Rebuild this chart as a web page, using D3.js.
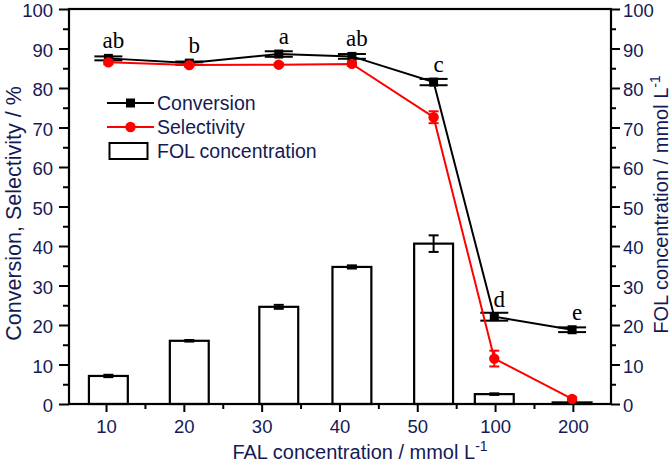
<!DOCTYPE html>
<html><head><meta charset="utf-8">
<script src="https://cdn.jsdelivr.net/npm/d3@7"></script>
<style>body{margin:0;background:#fff}svg{display:block}</style>
</head><body><svg id="c" width="672" height="464"></svg>
<script>
const categories = ["10","20","30","40","50","100","200"];
const xPositions = [0.03,1.07,2.22,3.16,4.21,4.99,5.99];
const conversion = [87.5,86.3,88.6,88.0,81.5,22.1,18.8];
const conversionErr = [0.5,0.4,0.7,0.6,0.8,1.0,0.6];
const selectivity = [86.5,85.8,85.9,86.1,72.6,11.5,1.3];
const selectivityErr = [0.5,0.4,0.4,0.5,1.5,2.0,0.4];
const folConc = [7.1,16.0,24.6,34.7,40.6,2.5,0.4];
const folErr = [0.3,0.2,0.5,0.4,2.1,0.2,0.1];
const letters = ["ab","b","a","ab","c","d","e"];
const yTicks = [0,10,20,30,40,50,60,70,80,90,100];
const yMinorTicks = [5,15,25,35,45,55,65,75,85,95];
const legendItems = ["Conversion","Selectivity","FOL concentration"];

const W=672,H=464, L=69, R=611, T=9, B=404;
const svg=d3.select("#c");
const x=d3.scaleLinear().domain([-0.476,6.49]).range([L,R]);
const y=d3.scaleLinear().domain([0,100]).range([B,T]);
const yR=d3.scaleLinear().domain([0,100]).range([B,T]);
const txtCol="#141a55";
const font="'Liberation Sans', Arial, sans-serif";

// bars
const bw = x(0.5)-x(0);
const barG=svg.append("g");
barG.selectAll("rect").data(folConc).join("rect")
  .attr("x",(d,i)=>x(xPositions[i])-bw/2).attr("width",bw)
  .attr("y",d=>yR(d)).attr("height",d=>B-yR(d))
  .attr("fill","#fff").attr("stroke","#000").attr("stroke-width",2.2);

function errBars(vals, errs, scale, capW, color, sw){
  const g=svg.append("g").attr("stroke",color).attr("stroke-width",sw).attr("fill","none");
  vals.forEach((v,i)=>{
    const cx=x(xPositions[i]), y1=scale(v+errs[i]), y2=scale(v-errs[i]);
    g.append("line").attr("x1",cx).attr("x2",cx).attr("y1",y1).attr("y2",y2);
    g.append("line").attr("x1",cx-capW/2).attr("x2",cx+capW/2).attr("y1",y1).attr("y2",y1);
    g.append("line").attr("x1",cx-capW/2).attr("x2",cx+capW/2).attr("y1",y2).attr("y2",y2);
  });
}
errBars(folConc, folErr, yR, 10, "#000", 2);

// axes
function styleAxis(g){
  g.select(".domain").remove();
  g.selectAll(".tick line").attr("stroke","#000").attr("stroke-width",2);
  g.selectAll(".tick text").attr("fill",txtCol).style("font-family",font).style("font-size","18.5px");
}
function styleY(g){ styleAxis(g); g.selectAll(".tick text").attr("dy","0.43em"); }
svg.append("g").attr("transform",`translate(0,${B})`)
  .call(d3.axisBottom(x).tickValues(d3.range(categories.length)).tickFormat(i=>categories[i]).tickSize(8).tickPadding(8))
  .call(styleAxis);
svg.append("g").attr("transform",`translate(0,${B})`)
  .call(d3.axisBottom(x).tickValues(d3.range(categories.length-1).map(i=>i+0.5)).tickFormat("").tickSize(5))
  .call(styleAxis);
svg.append("g").attr("transform",`translate(${L},0)`)
  .call(d3.axisLeft(y).tickValues(yTicks).tickSize(10).tickPadding(6))
  .call(styleY);
svg.append("g").attr("transform",`translate(${L},0)`)
  .call(d3.axisLeft(y).tickValues(yMinorTicks).tickFormat("").tickSize(6))
  .call(styleAxis);
svg.append("g").attr("transform",`translate(${R},0)`)
  .call(d3.axisRight(yR).tickValues(yTicks).tickSize(9).tickPadding(3))
  .call(styleY);
svg.append("g").attr("transform",`translate(${R},0)`)
  .call(d3.axisRight(yR).tickValues(yMinorTicks).tickFormat("").tickSize(5))
  .call(styleAxis);
svg.append("rect").attr("x",L).attr("y",T).attr("width",R-L).attr("height",B-T)
  .attr("fill","none").attr("stroke","#000").attr("stroke-width",2.2);

// lines
const line=(arr)=>d3.line().x((d,i)=>x(xPositions[i])).y(d=>y(d))(arr);
svg.append("path").attr("d",line(conversion)).attr("fill","none").attr("stroke","#000").attr("stroke-width",2);
errBars(conversion, conversionErr, y, 28, "#000", 2);
svg.append("g").selectAll("rect").data(conversion).join("rect")
  .attr("x",(d,i)=>x(xPositions[i])-4.5).attr("y",d=>y(d)-4.5).attr("width",9).attr("height",9).attr("fill","#000");

svg.append("path").attr("d",line(selectivity)).attr("fill","none").attr("stroke","#ff0000").attr("stroke-width",2);
errBars(selectivity, selectivityErr, y, 10, "#ff0000", 2);
svg.append("g").selectAll("circle").data(selectivity).join("circle")
  .attr("cx",(d,i)=>x(xPositions[i])).attr("cy",d=>y(d)).attr("r",5.2).attr("fill","#ff0000");

// letters
svg.append("g").selectAll("text").data(letters).join("text")
  .attr("x",(d,i)=>x(xPositions[i])+5).attr("y",(d,i)=>y(conversion[i])-10)
  .attr("text-anchor","middle").style("font-family","'Liberation Serif', 'Times New Roman', serif")
  .style("font-size","23px").attr("fill","#000").text(d=>d);

// legend
const lg=svg.append("g");
const lx1=107, lx2=154, ly0=103, lstep=24;
lg.append("line").attr("x1",lx1).attr("x2",lx2).attr("y1",ly0).attr("y2",ly0).attr("stroke","#000").attr("stroke-width",2);
lg.append("rect").attr("x",(lx1+lx2)/2-4.5).attr("y",ly0-4.5).attr("width",9).attr("height",9).attr("fill","#000");
lg.append("line").attr("x1",lx1).attr("x2",lx2).attr("y1",ly0+lstep).attr("y2",ly0+lstep).attr("stroke","#ff0000").attr("stroke-width",2);
lg.append("circle").attr("cx",(lx1+lx2)/2).attr("cy",ly0+lstep).attr("r",5.2).attr("fill","#ff0000");
lg.append("rect").attr("x",109.5).attr("y",ly0+2*lstep-8).attr("width",38).attr("height",16)
  .attr("fill","#fff").attr("stroke","#000").attr("stroke-width",2);
lg.selectAll("text").data(legendItems).join("text")
  .attr("x",157).attr("y",(d,i)=>ly0+i*lstep+6.5)
  .style("font-family",font).style("font-size","19.5px").attr("fill",txtCol).text(d=>d);

// axis titles
const xt=svg.append("text").attr("x",(L+R)/2+20).attr("y",459).attr("text-anchor","middle")
  .style("font-family",font).style("font-size","20px").attr("fill",txtCol);
xt.append("tspan").text("FAL concentration / mmol L");
xt.append("tspan").attr("dy",-8).style("font-size","14px").text("-1");

svg.append("text").attr("transform",`translate(21,${(T+B)/2+7}) rotate(-90)`).attr("text-anchor","middle")
  .style("font-family",font).style("font-size","21.5px").attr("fill",txtCol).text("Conversion, Selectivity / %");

const rt=svg.append("text").attr("transform",`translate(668,${(T+B)/2-2}) rotate(-90)`).attr("text-anchor","middle")
  .style("font-family",font).style("font-size","20px").attr("fill",txtCol);
rt.append("tspan").text("FOL concentration / mmol L");
rt.append("tspan").attr("dy",-8).style("font-size","14px").text("-1");
</script></body></html>
